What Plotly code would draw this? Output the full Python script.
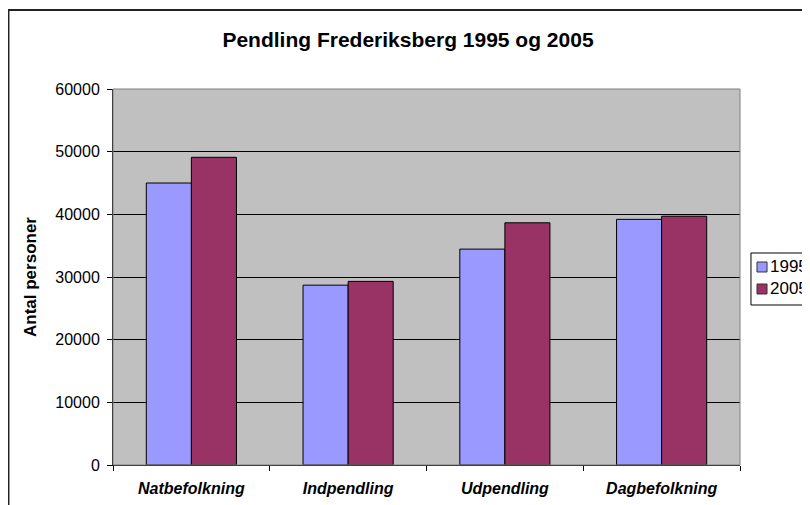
import plotly.graph_objects as go

categories = ["Natbefolkning", "Indpendling", "Udpendling", "Dagbefolkning"]
series_names = ["1995", "2005"]
values_1995 = [45000, 28700, 34450, 39200]
values_2005 = [49100, 29300, 38650, 39700]
y_ticks = [0, 10000, 20000, 30000, 40000, 50000, 60000]

FONT = "Arial, Liberation Sans, sans-serif"
COLORS = ["#9999FF", "#993366"]

fig = go.Figure()
for name, vals, col in zip(series_names, [values_1995, values_2005], COLORS):
    fig.add_bar(name=name, x=categories, y=vals,
                marker_color=col, marker_line_color="black", marker_line_width=1)

# page body has an 8px margin, so the figure is offset by (8, 8) in the window
fig.update_layout(
    width=820, height=505,
    margin=dict(l=105, r=88, t=81, b=48),
    paper_bgcolor="white",
    plot_bgcolor="#C0C0C0",
    barmode="group",
    bargap=0.425,
    bargroupgap=0,
    font=dict(family=FONT, size=16, color="black"),
    title=dict(text="<b>Pendling Frederiksberg 1995 og 2005</b>",
               x=400 / 820, xanchor="center", y=1 - 32 / 505, yanchor="middle",
               font=dict(size=21)),
    showlegend=False,
)

fig.update_xaxes(
    showline=True, linecolor="black", linewidth=1,
    ticks="outside", ticklen=5, tickcolor="black", tickson="boundaries",
    tickfont=dict(size=16, weight="bold", style="italic"),
    ticklabelstandoff=9,
    showgrid=False,
)
fig.update_yaxes(
    range=[0, 60000], tickvals=y_ticks, tickformat="d",
    showline=True, linecolor="black", linewidth=1,
    ticks="outside", ticklen=5, tickcolor="black",
    ticklabelstandoff=4,
    showgrid=True, gridcolor="black", gridwidth=1,
    zeroline=False,
    tickfont=dict(size=16),
    title=dict(text="<b>Antal personer</b>", font=dict(size=17), standoff=14),
)

# plot area frame (grey) and outer chart border
fig.add_shape(type="rect", xref="paper", yref="paper", x0=0, x1=1, y0=0, y1=1,
              line=dict(color="#808080", width=1), layer="above")
fig.add_shape(type="rect", xref="paper", yref="paper",
              x0=-0.1667, x1=1.5, y0=-0.5, y1=1.210,
              line=dict(color="#222222", width=2))

# legend box, cut off at the right edge like the original
fig.add_shape(type="rect", xref="paper", yref="paper",
              x0=1.0175, x1=1.3, y0=0.4255, y1=0.5638,
              line=dict(color="black", width=1), fillcolor="white")
for i, (name, col) in enumerate(zip(series_names, COLORS)):
    yc = 0.5266 - i * 0.0585
    fig.add_shape(type="rect", xref="paper", yref="paper",
                  x0=1.0271, x1=1.0431, y0=yc - 0.0133, y1=yc + 0.0133,
                  line=dict(color="#333333", width=1), fillcolor=col)
    fig.add_annotation(text=name, xref="paper", yref="paper", x=1.0447, y=yc,
                       xanchor="left", yanchor="middle", showarrow=False,
                       font=dict(size=17))

fig.write_html("out.html")
